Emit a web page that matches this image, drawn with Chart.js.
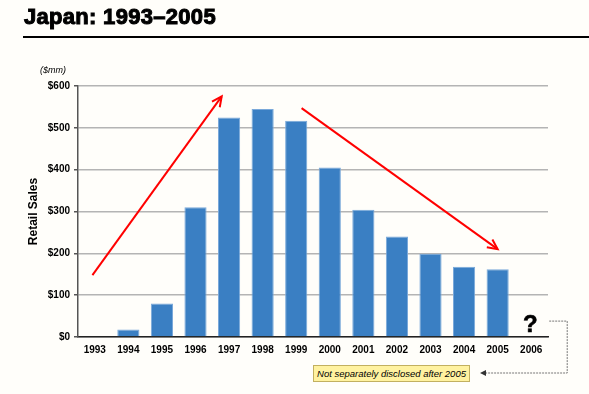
<!DOCTYPE html>
<html>
    <head>
        <script src="https://cdn.jsdelivr.net/npm/chart.js"></script>
        <title>Japan: 1993-2005</title>
        <style>
            body { margin: 0; background: #fffefa; font-family: "Liberation Sans", Arial, sans-serif; }
            #wrap { position: relative; width: 589px; height: 394px; overflow: hidden; }
            #chartWrapper { position: absolute; left: 0; top: 0; width: 589px; height: 394px; }
            .title { position: absolute; left: 24px; top: 4px; margin: 0; font-size: 22px; font-weight: bold; color: #000; -webkit-text-stroke: 1px #000; letter-spacing: 0.3px; }
            .rule { position: absolute; left: 23px; top: 36px; width: 566px; height: 2px; background: #000; }
            .unit { position: absolute; left: 40px; top: 65px; font-size: 9px; font-style: italic; color: #000; }
            .qmark { position: absolute; left: 523px; top: 310px; font-size: 24px; font-weight: bold; color: #000; -webkit-text-stroke: 0.6px #000; }
            .note { position: absolute; left: 313px; top: 365px; width: 157px; height: 17px; box-sizing: border-box; background: #fff2a0; border: 1px solid #c2b060; font-size: 9.5px; font-style: italic; text-align: center; line-height: 15px; color: #000; }
        </style>
    </head>
    <body>
        <div id="wrap">
            <div id="chartWrapper">
                <canvas id="myChart" width="589" height="394"></canvas>
            </div>
            <h1 class="title">Japan: 1993–2005</h1>
            <div class="rule"></div>
            <div class="unit">($mm)</div>
            <div class="qmark">?</div>
            <div class="note">Not separately disclosed after 2005</div>
        </div>

        <script>
            const years = ['1993', '1994', '1995', '1996', '1997', '1998', '1999', '2000', '2001', '2002', '2003', '2004', '2005', '2006'];
            const retailSales = [0, 18, 80, 310, 525, 545, 517, 405, 304, 240, 199, 168, 162, null];
            const yTicks = [0, 100, 200, 300, 400, 500, 600];
            // trend arrows, x in category index units, y in $mm
            const upArrow = [{x: -0.07, y: 148}, {x: 3.78, y: 575}];
            const downArrow = [{x: 6.16, y: 547}, {x: 12.0, y: 210}];

            function head(ctx, p0, p1, len){
                const a = Math.atan2(p1.y - p0.y, p1.x - p0.x);
                ctx.beginPath();
                ctx.moveTo(p1.x - len * Math.cos(a - 0.45), p1.y - len * Math.sin(a - 0.45));
                ctx.lineTo(p1.x, p1.y);
                ctx.lineTo(p1.x - len * Math.cos(a + 0.45), p1.y - len * Math.sin(a + 0.45));
                ctx.stroke();
            }

            const arrowHeads = {
                id: 'arrowHeads',
                afterDatasetsDraw(chart){
                    const ctx = chart.ctx;
                    ctx.save();
                    ctx.strokeStyle = '#ff0000';
                    ctx.lineWidth = 2;
                    [1, 2].forEach(function(i){
                        const pts = chart.getDatasetMeta(i).data;
                        head(ctx, pts[0], pts[1], 11);
                    });
                    // dotted connector from "?" to the note
                    const xs = chart.scales.x;
                    const ys = chart.scales.y;
                    const qx = xs.getPixelForValue(13) + 18;
                    const qy = ys.getPixelForValue(38);
                    const rx = qx + 18;
                    const by = 373;
                    const nx = 480;
                    ctx.strokeStyle = '#777';
                    ctx.lineWidth = 1;
                    ctx.setLineDash([2, 1]);
                    ctx.beginPath();
                    ctx.moveTo(qx, qy);
                    ctx.lineTo(rx, qy);
                    ctx.lineTo(rx, by);
                    ctx.lineTo(nx + 4, by);
                    ctx.stroke();
                    ctx.setLineDash([]);
                    ctx.fillStyle = '#333';
                    ctx.beginPath();
                    ctx.moveTo(nx, by);
                    ctx.lineTo(nx + 6, by - 3);
                    ctx.lineTo(nx + 6, by + 3);
                    ctx.closePath();
                    ctx.fill();
                    ctx.restore();
                }
            };

            const ctx = document.getElementById('myChart').getContext('2d');

            const myChart = new Chart(ctx, {
                type: 'bar',
                plugins: [arrowHeads],
                data: {
                    labels: years,
                    datasets: [
                        {
                            label: 'Retail Sales',
                            data: retailSales,
                            backgroundColor: '#3a7fc3',
                            borderColor: '#7aa9da',
                            borderWidth: 1,
                            grouped: false,
                            barPercentage: 0.66,
                            categoryPercentage: 1,
                            order: 2
                        },
                        {
                            type: 'line',
                            data: upArrow,
                            xAxisID: 'xl',
                            borderColor: '#ff0000',
                            borderWidth: 2,
                            pointRadius: 0,
                            order: 1
                        },
                        {
                            type: 'line',
                            data: downArrow,
                            xAxisID: 'xl',
                            borderColor: '#ff0000',
                            borderWidth: 2,
                            pointRadius: 0,
                            order: 1
                        }
                    ]
                },
                options: {
                    responsive: false,
                    animation: false,
                    layout: { padding: { left: 0, top: 86, right: 41, bottom: 0 } },
                    plugins: {
                        legend: { display: false },
                        tooltip: { enabled: false }
                    },
                    scales: {
                        x: {
                            grid: { display: false, drawTicks: false },
                            border: { color: '#222', width: 1.5 },
                            ticks: {
                                color: '#000',
                                padding: 7,
                                maxRotation: 0,
                                autoSkip: false,
                                font: { family: 'Liberation Sans', size: 10, weight: 'bold' }
                            },
                            afterFit(scale){ scale.height = 57; }
                        },
                        xl: {
                            type: 'linear',
                            display: false,
                            offset: false,
                            grid: { offset: false },
                            min: -0.5,
                            max: 13.5
                        },
                        y: {
                            min: 0,
                            max: 600,
                            afterBuildTicks(scale){
                                scale.ticks = yTicks.map(function(v){ return {value: v}; });
                            },
                            grid: { color: '#b4b4b4', lineWidth: 1.5, tickLength: 4, tickColor: '#555' },
                            border: { color: '#555', width: 1.5 },
                            ticks: {
                                color: '#000',
                                padding: 4,
                                font: { family: 'Liberation Sans', size: 10, weight: 'bold' },
                                callback: function(v){ return '$' + v; }
                            },
                            title: {
                                display: true,
                                text: 'Retail Sales',
                                color: '#000',
                                padding: { top: 26, bottom: 0 },
                                font: { family: 'Liberation Sans', size: 12, weight: 'bold' }
                            },
                            afterFit(scale){ scale.width = 78; }
                        }
                    }
                }
            });
        </script>
    </body>
</html>
